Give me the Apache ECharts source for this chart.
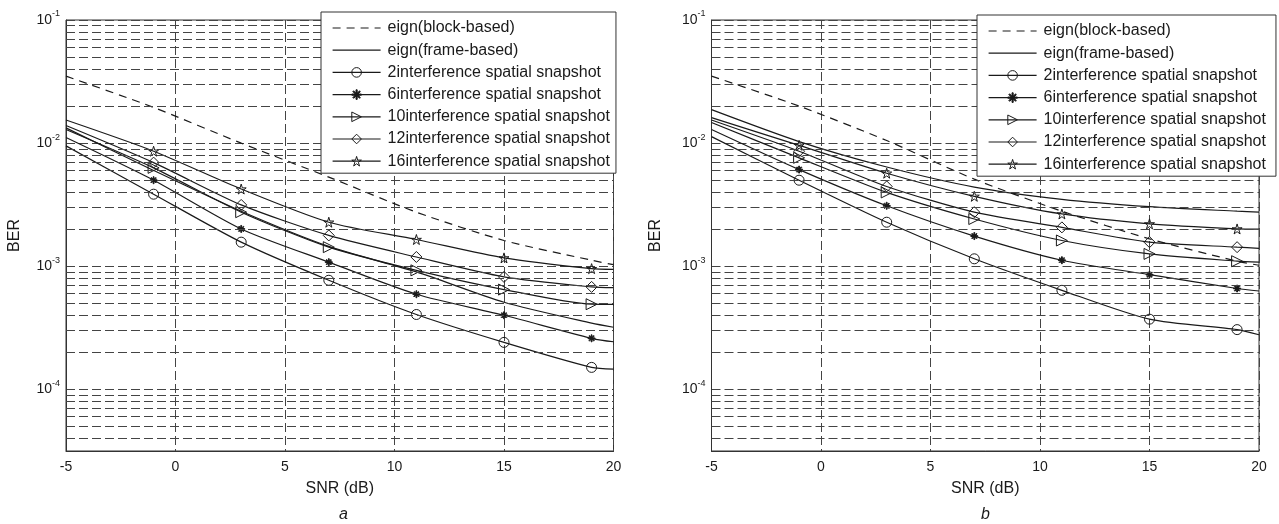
<html>
<head>
<meta charset="utf-8">
<title>BER vs SNR</title>
<script src="https://cdn.jsdelivr.net/npm/echarts@6/dist/echarts.min.js"></script>
<style>body{margin:0;background:#fff}</style>
</head>
<body>
<div id="chart" style="width:1279px;height:524px"></div>
<script>
// SNR 采样点（-5 和 20 只画线不画标记）
var snr = [-5, -1, 3, 7, 11, 15, 19, 20];

var names = ['eign(block-based)', 'eign(frame-based)',
	'2interference spatial snapshot', '6interference spatial snapshot',
	'10interference spatial snapshot', '12interference spatial snapshot',
	'16interference spatial snapshot'];

// 图 a
var blockA  = [3.5e-2, 1.95e-2, 1.0e-2, 5.3e-3, 2.75e-3, 1.62e-3, 1.12e-3, 1.03e-3];
var frameA  = [1.33e-2, 6.0e-3, 2.8e-3, 1.45e-3, 9.0e-4, 5.1e-4, 3.45e-4, 3.2e-4];
var snap2A  = [9.5e-3, 3.85e-3, 1.57e-3, 7.7e-4, 4.06e-4, 2.41e-4, 1.51e-4, 1.46e-4];
var snap6A  = [1.11e-2, 5.0e-3, 2.01e-3, 1.08e-3, 5.93e-4, 4.0e-4, 2.6e-4, 2.44e-4];
var snap10A = [1.29e-2, 6.3e-3, 2.75e-3, 1.43e-3, 9.27e-4, 6.47e-4, 4.92e-4, 4.9e-4];
var snap12A = [1.39e-2, 6.95e-3, 3.15e-3, 1.78e-3, 1.19e-3, 8.2e-4, 6.8e-4, 6.7e-4];
var snap16A = [1.54e-2, 8.6e-3, 4.24e-3, 2.28e-3, 1.65e-3, 1.17e-3, 9.57e-4, 9.44e-4];

// 图 b
var blockB  = [3.5e-2, 2.0e-2, 1.05e-2, 5.1e-3, 2.8e-3, 1.67e-3, 1.1e-3, 1.02e-3];
var frameB  = [1.87e-2, 1.03e-2, 6.4e-3, 4.4e-3, 3.5e-3, 3.05e-3, 2.8e-3, 2.75e-3];
var snap2B  = [1.13e-2, 5.0e-3, 2.28e-3, 1.15e-3, 6.38e-4, 3.72e-4, 3.06e-4, 2.78e-4];
var snap6B  = [1.29e-2, 6.1e-3, 3.1e-3, 1.76e-3, 1.12e-3, 8.55e-4, 6.6e-4, 6.3e-4];
var snap10B = [1.47e-2, 7.6e-3, 3.98e-3, 2.42e-3, 1.62e-3, 1.26e-3, 1.1e-3, 1.08e-3];
var snap12B = [1.54e-2, 8.6e-3, 4.45e-3, 2.75e-3, 2.07e-3, 1.57e-3, 1.43e-3, 1.4e-3];
var snap16B = [1.61e-2, 9.6e-3, 5.7e-3, 3.7e-3, 2.66e-3, 2.21e-3, 2.01e-3, 2.0e-3];

var FONT = 'Liberation Sans, Arial, sans-serif';
var INK = '#1a1a1a';
var GRID_DASH = [9, 4];
var GRID_COLOR = '#444';
var HOLLOW = 'rgba(255,255,255,0)';

var STAR = 'path://M50,0 L61,35 L98,35 L68,57 L79,91 L50,70 L21,91 L32,57 L2,35 L39,35 Z';
var ASTER = 'path://M4.4,0 h1.2 v10 h-1.2 Z M0,4.4 h10 v1.2 h-10 Z M1.1,1.9 L1.9,1.1 L8.9,8.1 L8.1,8.9 Z M8.1,1.1 L8.9,1.9 L1.9,8.9 L1.1,8.1 Z';

// 每条曲线的标记
var marks = [
	{symbol: 'none'},
	{symbol: 'none'},
	{symbol: 'circle', size: 10},
	{symbol: ASTER, size: 7, fill: INK},
	{symbol: 'triangle', size: 11, rotate: -90},
	{symbol: 'diamond', size: 11},
	{symbol: STAR, size: 10}
];

// 对数网格的次刻度线 2..9 x 10^k
function minorLines(lo) {
	var arr = [];
	for (var k = -5; k <= -2; k++) {
		for (var m = 2; m <= 9; m++) {
			var v = m * Math.pow(10, k);
			if (v > lo) arr.push({yAxis: v});
		}
	}
	return arr;
}

var YMIN = Math.pow(10, -4.5);

function makeSeries(vals, i, g) {
	var mk = marks[i];
	var data = [];
	for (var j = 0; j < snr.length; j++) {
		var item = {value: [snr[j], vals[j]]};
		if (j == 0 || j == snr.length - 1) item.symbol = 'none';
		data.push(item);
	}
	return {
		name: names[i],
		type: 'line',
		xAxisIndex: g,
		yAxisIndex: g,
		data: data,
		smooth: 0.25,
		symbol: mk.symbol,
		symbolSize: mk.size || 8,
		symbolRotate: mk.rotate || 0,
		showAllSymbol: true,
		z: 3,
		lineStyle: {color: INK, width: 1.2, type: i == 0 ? [8, 6] : 'solid'},
		itemStyle: {color: mk.fill || HOLLOW, borderColor: INK, borderWidth: 1},
		emphasis: {disabled: true}
	};
}

function gridHelper(g) {
	return {
		type: 'line',
		xAxisIndex: g,
		yAxisIndex: g,
		data: [],
		silent: true,
		z: 1,
		markLine: {
			silent: true,
			precision: 12,
			symbol: ['none', 'none'],
			label: {show: false},
			animation: false,
			lineStyle: {color: GRID_COLOR, width: 1, type: GRID_DASH},
			data: minorLines(YMIN)
		}
	};
}

function xAx(g) {
	return {
		type: 'value', gridIndex: g, min: -5, max: 20, interval: 5,
		name: 'SNR (dB)', nameLocation: 'middle', nameGap: 30,
		nameTextStyle: {fontFamily: FONT, fontSize: 16, color: INK},
		axisLine: {show: true, onZero: false, lineStyle: {color: '#333', width: 1}},
		axisTick: {show: false},
		axisLabel: {fontFamily: FONT, fontSize: 14, color: INK, margin: 9},
		splitLine: {show: true, lineStyle: {color: GRID_COLOR, width: 1, type: GRID_DASH}}
	};
}

function yAx(g, gap) {
	return {
		type: 'log', logBase: 10, gridIndex: g, min: YMIN, max: 0.1,
		name: 'BER', nameLocation: 'middle', nameGap: gap,
		nameTextStyle: {fontFamily: FONT, fontSize: 16, color: INK},
		axisLine: {show: true, onZero: false, lineStyle: {color: '#333', width: 1}},
		axisTick: {show: false},
		axisLabel: {
			margin: 6,
			formatter: function (v) {
				var e = Math.log10(v);
				var r = Math.round(e);
				if (Math.abs(e - r) > 1e-6) return '';
				return '{b|10}{s|' + r + '}';
			},
			rich: {
				b: {fontFamily: FONT, fontSize: 14, color: INK},
				s: {fontFamily: FONT, fontSize: 9, color: INK, verticalAlign: 'top', padding: [0, 0, 12, 0]}
			}
		},
		splitLine: {show: true, lineStyle: {color: GRID_COLOR, width: 1, type: GRID_DASH}}
	};
}

// 图例项：纯线条的两项不显示标记
function legendData() {
	var arr = [];
	for (var i = 0; i < names.length; i++) {
		var st = {color: marks[i].fill || HOLLOW, borderColor: INK, borderWidth: 1};
		if (i < 2) st.opacity = 0;
		arr.push({name: names[i], itemStyle: st});
	}
	return arr;
}

function legendAt(left, top, w) {
	return {
		data: legendData(),
		orient: 'vertical',
		left: left,
		top: top,
		itemWidth: 48,
		itemHeight: 12,
		itemGap: 6.2,
		padding: [8, w, 4, 11],
		backgroundColor: '#fff',
		borderColor: '#333',
		borderWidth: 1,
		borderRadius: 0,
		selectedMode: false,
		z: 10,
		lineStyle: {width: 1.2, color: INK},
		textStyle: {fontFamily: FONT, fontSize: 16, color: INK, padding: [0, 0, 0, 2]}
	};
}

var series = [gridHelper(0), gridHelper(1)];
var setA = [blockA, frameA, snap2A, snap6A, snap10A, snap12A, snap16A];
var setB = [blockB, frameB, snap2B, snap6B, snap10B, snap12B, snap16B];
for (var i = 0; i < names.length; i++) {
	series.push(makeSeries(setA[i], i, 0));
	series.push(makeSeries(setB[i], i, 1));
}

var myChart = echarts.init(document.getElementById('chart'));
myChart.setOption({
	animation: false,
	backgroundColor: '#fff',
	title: [
		{text: 'a', left: 334, top: 502, textStyle: {fontFamily: FONT, fontSize: 16, fontStyle: 'italic', fontWeight: 'normal', color: INK}},
		{text: 'b', left: 976, top: 502, textStyle: {fontFamily: FONT, fontSize: 16, fontStyle: 'italic', fontWeight: 'normal', color: INK}}
	],
	legend: [legendAt(321, 12, 6), legendAt(977, 15, 10)],
	grid: [
		{left: 66, right: 665.5, top: 20, bottom: 73, show: true, borderColor: '#333', borderWidth: 1},
		{left: 711.5, right: 20, top: 20, bottom: 73, show: true, borderColor: '#333', borderWidth: 1}
	],
	xAxis: [xAx(0), xAx(1)],
	yAxis: [yAx(0, 43), yAx(1, 48)],
	series: series
});
</script>
</body>
</html>
